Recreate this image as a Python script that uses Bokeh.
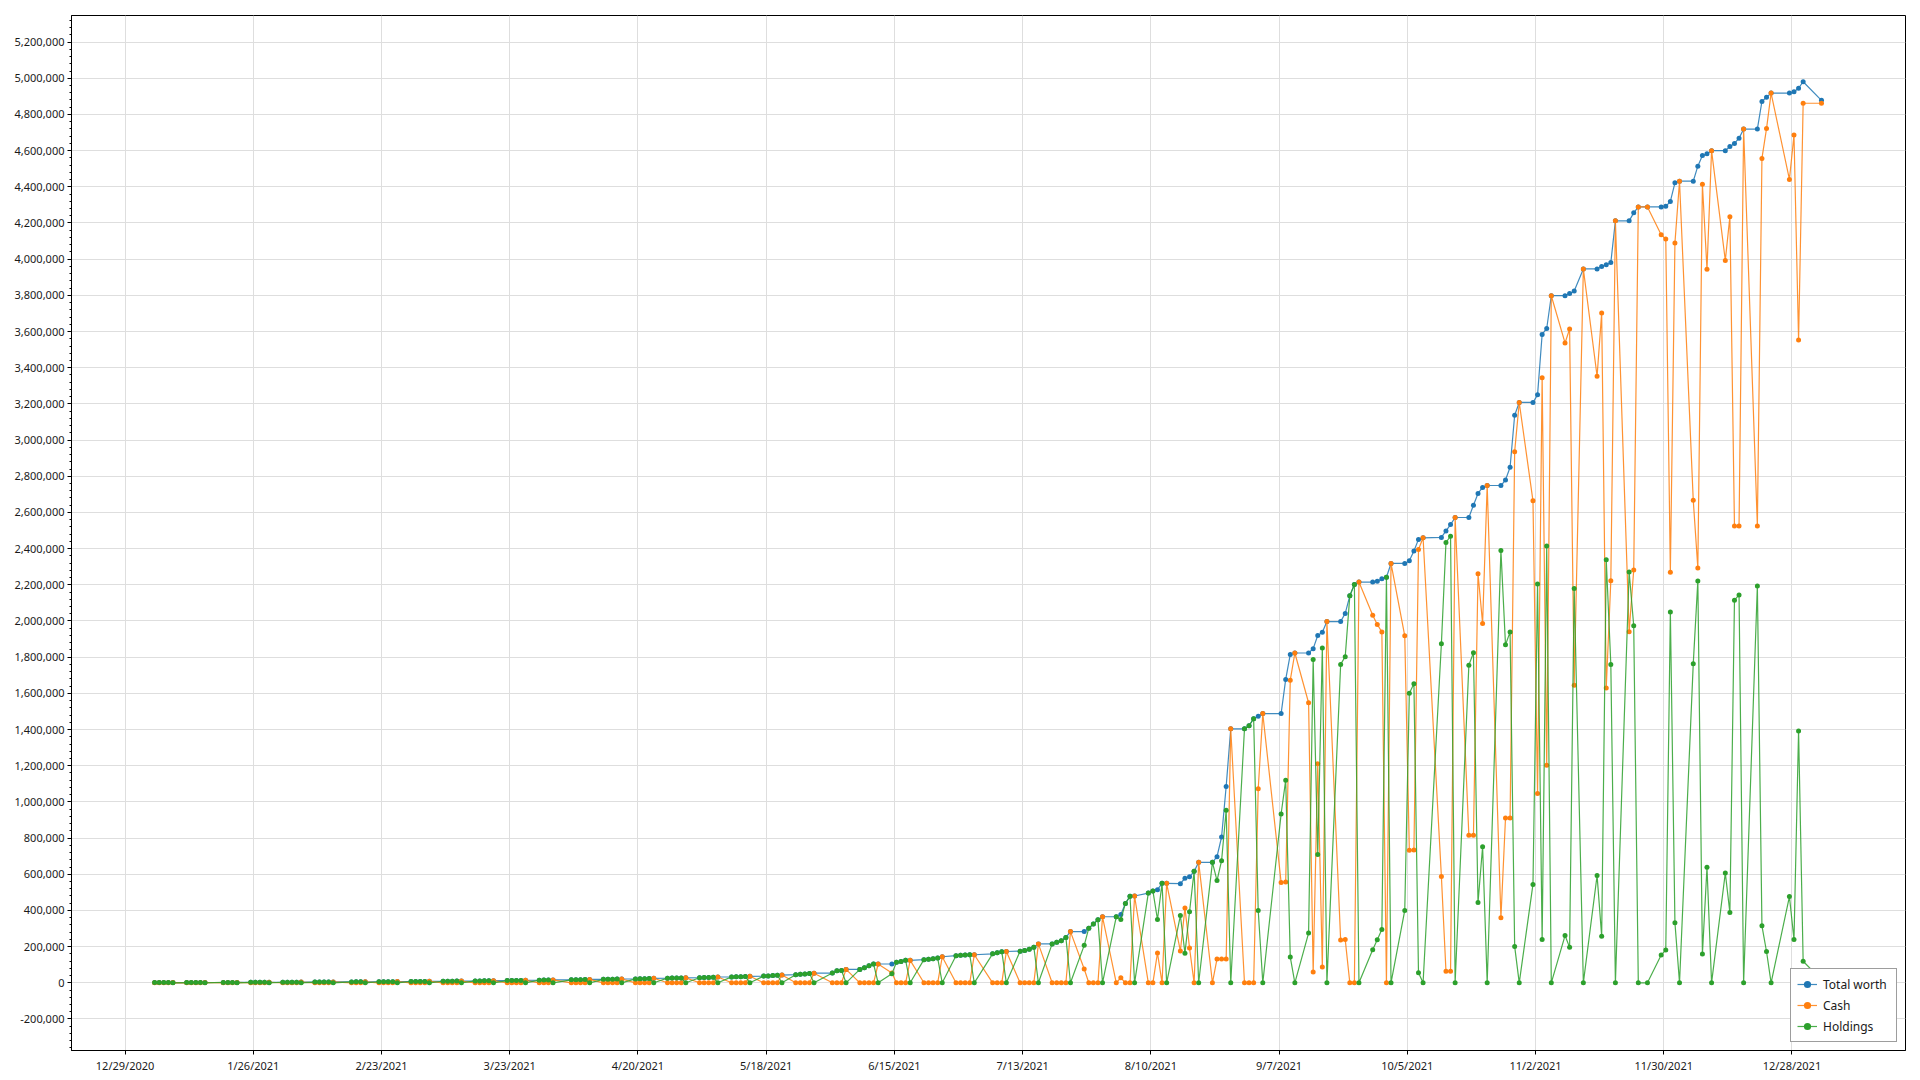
import pandas as pd
from bokeh.plotting import figure
from bokeh.models import (Range1d, FixedTicker, SingleIntervalTicker,
                          NumeralTickFormatter, ColumnDataSource)
from bokeh.embed import file_html
from bokeh.resources import INLINE

# ---------------- data ----------------
# non-trading days in the series (weekends are skipped as well)
HOLIDAYS = ["2021-01-01", "2021-01-18", "2021-02-15", "2021-04-02", "2021-05-31",
            "2021-07-05", "2021-09-06", "2021-10-11", "2021-11-11", "2021-11-25",
            "2021-12-24", "2021-12-31"]
START_DATE = "2021-01-04"
END_DATE = "2022-01-03"

# values in thousands, one row per week
TOTAL_K = [
    1.0, 1.0, 1.1, 1.1, 1.2,
    1.3, 1.4, 1.5, 1.6, 1.7,
    2.0, 2.1, 2.2, 2.3,
    2.5, 2.6, 2.7, 2.8, 3.0,
    3.2, 3.3, 3.4, 3.6, 3.8,
    4.0, 4.1, 4.3, 4.5, 4.7,
    5.0, 5.2, 5.4, 5.6,
    5.9, 6.1, 6.3, 6.5, 6.8,
    7.1, 7.4, 7.6, 7.9, 8.2,
    8.5, 8.8, 9.1, 9.4, 9.8,
    10.2, 10.6, 11.0, 11.4, 11.8,
    12.2, 12.6, 13.0, 13.4, 13.9,
    14.4, 14.9, 15.4, 16.0,
    16.5, 17.0, 17.5, 18.0, 18.6,
    19.0, 19.5, 20.0, 20.5, 21.0,
    21.5, 22.0, 23.0, 24.0, 25.0,
    25.5, 26.0, 26.5, 27.0, 27.5,
    28, 29, 30, 31, 32,
    32.5, 33, 34, 35, 36,
    37, 38, 40, 42, 43,
    45, 47, 49, 51, 53,
    54, 67, 68, 74,
    74, 83, 94, 104, 104,
    104, 113, 118, 124, 124,
    128, 130, 133, 137, 144,
    150, 152, 154, 155, 155,
    160, 166, 172, 173,
    175, 178, 185, 197, 215,
    215, 224, 232, 251, 283,
    283, 302, 325, 348, 365,
    365, 378, 439, 478, 480,
    496, 508, 515, 550, 550,
    548, 578, 586, 616, 666,
    666, 697, 806, 1085, 1404,
    1404, 1421, 1460, 1473, 1488,
    1488, 1677, 1815, 1823,
    1823, 1847, 1920, 1938, 1997,
    1997, 2042, 2139, 2202, 2215,
    2215, 2219, 2234, 2242, 2318,
    2318, 2333, 2387, 2451, 2460,
    2462, 2498, 2533, 2572,
    2572, 2640, 2705, 2738, 2749,
    2749, 2779, 2850, 3137, 3208,
    3208, 3250, 3584, 3617, 3798,
    3798, 3810, 3824, 3946,
    3946, 3960, 3969, 3981, 4212,
    4212, 4256, 4289, 4289,
    4289, 4292, 4319, 4422, 4431,
    4431, 4514, 4573, 4583, 4600,
    4600, 4623, 4640, 4669, 4719,
    4719, 4872, 4895, 4918,
    4918, 4925, 4945, 4981,
    4878,
]

CASH_K = [
    0, 0, 0, 0, 1.2,
    0, 0, 0, 0, 1.7,
    0, 0, 0, 2.3,
    0, 0, 0, 0, 3.0,
    0, 0, 0, 0, 3.8,
    0, 0, 0, 0, 4.7,
    0, 0, 0, 5.6,
    0, 0, 0, 0, 6.8,
    0, 0, 0, 0, 8.2,
    0, 0, 0, 0, 9.8,
    0, 0, 0, 0, 11.8,
    0, 0, 0, 0, 13.9,
    0, 0, 0, 16.0,
    0, 0, 0, 0, 18.6,
    0, 0, 0, 0, 21.0,
    0, 0, 0, 0, 25.0,
    0, 0, 0, 0, 27.5,
    0, 0, 0, 0, 32,
    0, 0, 0, 0, 36,
    0, 0, 0, 0, 43,
    0, 0, 0, 0, 53,
    0, 0, 0, 74,
    0, 0, 0, 0, 104,
    54, 0, 0, 0, 124,
    0, 0, 0, 0, 144,
    0, 0, 0, 0, 155,
    0, 0, 0, 173,
    0, 0, 0, 0, 215,
    0, 0, 0, 0, 283,
    76, 0, 0, 0, 365,
    0, 28, 0, 0, 480,
    0, 0, 165, 0, 550,
    176, 414, 193, 0, 666,
    0, 132, 131, 131, 1404,
    0, 0, 0, 1073, 1488,
    555, 557, 1673, 1823,
    1548, 60, 1211, 87, 1997,
    237, 239, 0, 0, 2215,
    2032, 1981, 1939, 0, 2318,
    1918, 733, 734, 2395, 2460,
    588, 64, 64, 2572,
    816, 816, 2261, 1986, 2749,
    360, 911, 911, 2936, 3208,
    2664, 1046, 3344, 1203, 3798,
    3537, 3614, 1645, 3946,
    3353, 3703, 1630, 2222, 4212,
    1941, 2282, 4289, 4289,
    4135, 4111, 2269, 4090, 4431,
    2668, 2293, 4414, 3944, 4600,
    3993, 4235, 2525, 2525, 4719,
    2525, 4557, 4722, 4918,
    4441, 4686, 3553, 4862,
    4862,
]

HOLDINGS_K = [
    1.0, 1.0, 1.1, 1.1, 0,
    1.3, 1.4, 1.5, 1.6, 0,
    2.0, 2.1, 2.2, 0,
    2.5, 2.6, 2.7, 2.8, 0,
    3.2, 3.3, 3.4, 3.6, 0,
    4.0, 4.1, 4.3, 4.5, 0,
    5.0, 5.2, 5.4, 0,
    5.9, 6.1, 6.3, 6.5, 0,
    7.1, 7.4, 7.6, 7.9, 0,
    8.5, 8.8, 9.1, 9.4, 0,
    10.2, 10.6, 11.0, 11.4, 0,
    12.2, 12.6, 13.0, 13.4, 0,
    14.4, 14.9, 15.4, 0,
    16.5, 17.0, 17.5, 18.0, 0,
    19.0, 19.5, 20.0, 20.5, 0,
    21.5, 22.0, 23.0, 24.0, 0,
    25.5, 26.0, 26.5, 27.0, 0,
    28, 29, 30, 31, 0,
    32.5, 33, 34, 35, 0,
    37, 38, 40, 42, 0,
    45, 47, 49, 51, 0,
    54, 67, 68, 0,
    74, 83, 94, 104, 0,
    50, 113, 118, 124, 0,
    128, 130, 133, 137, 0,
    150, 152, 154, 155, 0,
    160, 166, 172, 0,
    175, 178, 185, 197, 0,
    215, 224, 232, 251, 0,
    207, 302, 325, 348, 0,
    365, 350, 439, 478, 0,
    496, 508, 350, 550, 0,
    372, 164, 393, 616, 0,
    666, 565, 675, 954, 0,
    1404, 1421, 1460, 400, 0,
    933, 1120, 142, 0,
    275, 1787, 709, 1851, 0,
    1760, 1803, 2139, 2202, 0,
    183, 238, 295, 2242, 0,
    400, 1600, 1653, 56, 0,
    1874, 2434, 2469, 0,
    1756, 1824, 444, 752, 0,
    2389, 1868, 1939, 201, 0,
    544, 2204, 240, 2414, 0,
    261, 196, 2179, 0,
    593, 257, 2339, 1759, 0,
    2271, 1974, 0, 0,
    154, 181, 2050, 332, 0,
    1763, 2221, 159, 639, 0,
    607, 388, 2115, 2144, 0,
    2194, 315, 173, 0,
    477, 239, 1392, 119,
    16,
]

SERIES_NAMES = ["Total worth", "Cash", "Holdings"]
SERIES_COLORS = ["#1f77b4", "#ff7f0e", "#2ca02c"]

X_BASE = "2020-12-29"
X_TICK_LABELS = ["12/29/2020", "1/26/2021", "2/23/2021", "3/23/2021", "4/20/2021",
                 "5/18/2021", "6/15/2021", "7/13/2021", "8/10/2021", "9/7/2021",
                 "10/5/2021", "11/2/2021", "11/30/2021", "12/28/2021"]

# ---------------- build ----------------
dates = pd.bdate_range(START_DATE, END_DATE, freq="C", holidays=HOLIDAYS)
n = min(len(dates), len(TOTAL_K), len(CASH_K), len(HOLDINGS_K))
base = pd.Timestamp(X_BASE)
# points are stamped a little before midday
xs = [((d - base).total_seconds() / 86400.0) + 0.45 for d in dates[:n]]

tick_days = [(pd.to_datetime(t, format="%m/%d/%Y") - base).days for t in X_TICK_LABELS]

FONT = "Noto Sans"

p = figure(frame_width=1834, frame_height=1035,
           min_border_left=71, min_border_top=15, min_border_right=12, min_border_bottom=20,
           x_range=Range1d(-11.7, 388.8), y_range=Range1d(-374200, 5347000),
           output_backend="svg", toolbar_location=None)
p.background_fill_color = "white"
p.border_fill_color = "white"
p.outline_line_color = "black"
p.outline_line_width = 1
p.outline_line_alpha = 1

# axes
p.xaxis.ticker = FixedTicker(ticks=tick_days)
p.xaxis.major_label_overrides = {t: lab for t, lab in zip(tick_days, X_TICK_LABELS)}
p.yaxis.ticker = SingleIntervalTicker(interval=200000, num_minor_ticks=5)
p.yaxis.formatter = NumeralTickFormatter(format="0,0")
for ax in (p.xaxis, p.yaxis):
    ax.axis_line_color = "black"
    ax.axis_line_width = 1
    ax.major_tick_line_color = "black"
    ax.major_tick_in = 0
    ax.major_tick_out = 4
    ax.major_label_text_font = FONT
    ax.major_label_text_font_size = "11px"
    ax.major_label_text_color = "#1a1a1a"
p.xaxis.minor_tick_line_color = None
p.xaxis.major_label_standoff = 3
p.yaxis.minor_tick_line_color = "black"
p.yaxis.minor_tick_in = 0
p.yaxis.minor_tick_out = 2
p.yaxis.major_label_standoff = 3

p.xgrid.grid_line_color = "#dedede"
p.ygrid.grid_line_color = "#dedede"
p.xgrid.grid_line_width = 1
p.ygrid.grid_line_width = 1

for name, color, vals in zip(SERIES_NAMES, SERIES_COLORS, [TOTAL_K, CASH_K, HOLDINGS_K]):
    src = ColumnDataSource(dict(x=xs, y=[v * 1000 for v in vals[:n]]))
    p.line("x", "y", source=src, line_color=color, line_width=1.2, line_alpha=0.85,
           legend_label=name)
    p.scatter("x", "y", source=src, marker="circle", size=5, fill_color=color,
              line_color=None, legend_label=name)

lg = p.legend[0]
lg.location = "bottom_right"
lg.margin = 8
lg.padding = 6
lg.spacing = 3
lg.glyph_width = 20
lg.glyph_height = 18
lg.label_height = 18
lg.label_width = 67
lg.label_standoff = 6
lg.border_line_color = "#3c3c3c"
lg.border_line_width = 1.5
lg.background_fill_color = "white"
lg.background_fill_alpha = 1
lg.label_text_font = FONT
lg.label_text_font_size = "12px"
lg.label_text_color = "#1a1a1a"

open("out.html", "w").write(file_html(p, INLINE))
